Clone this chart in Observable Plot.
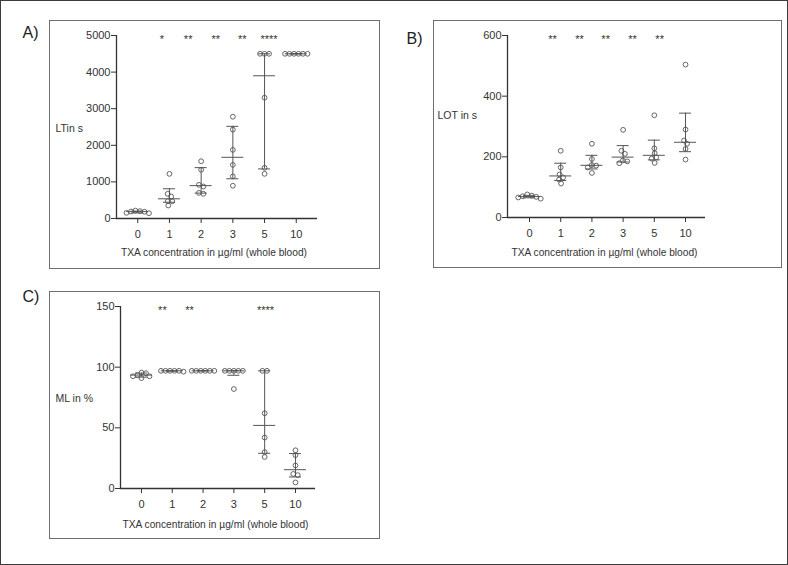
<!DOCTYPE html>
<html><head><meta charset="utf-8">
<script src="https://cdn.jsdelivr.net/npm/d3@7"></script>
<script src="https://cdn.jsdelivr.net/npm/@observablehq/plot@0.6"></script>
<style>
body{margin:0;background:#fff;}
#fig{position:relative;width:788px;height:565px;box-sizing:border-box;border:1.5px solid #3c3c3c;overflow:hidden;font-family:"Liberation Sans",Arial,sans-serif;background:#fff;}
.box{position:absolute;box-sizing:border-box;border:1px solid #6e6e6e;}
.panel{position:absolute;}
.letter{position:absolute;font-size:16px;color:#222;line-height:1;}
</style></head><body><div id="fig"></div>
<script>
// ---- data ----
const groups = ["0", "1", "2", "3", "5", "10"];
const xLabel = "TXA concentration in µg/ml (whole blood)";

// Panel A: LT in s
const ltValues = [
  [145, 215, 200, 185, 155, 190],
  [1220, 675, 600, 475, 470, 355],
  [1565, 1330, 875, 920, 675, 700],
  [2780, 2430, 1875, 1465, 1150, 895],
  [4500, 4500, 4500, 3300, 1385, 1220],
  [4500, 4500, 4500, 4500, 4500, 4500]
];
const ltMedian = [188, 538, 898, 1672, 3900, 4500];
const ltQ1 = [152, 444, 694, 1086, 1355, 4500];
const ltQ3 = [204, 812, 1390, 2518, 4500, 4500];
const ltTicks = [0, 1000, 2000, 3000, 4000, 5000];
const ltStars = ["*", "**", "**", "**", "****"];
const ltStarPos = [0.76, 1.59, 2.46, 3.3, 4.14];

// Panel B: LOT in s
const lotValues = [
  [62, 66, 68, 70, 72, 76],
  [220, 165, 142, 132, 125, 112],
  [243, 193, 173, 171, 165, 147],
  [289, 220, 210, 188, 185, 179],
  [337, 228, 212, 198, 194, 180],
  [504, 290, 254, 243, 226, 191]
];
const lotMedian = [69, 137, 172, 199, 205, 248];
const lotQ1 = [65, 122, 160, 183, 190, 217];
const lotQ3 = [73, 179, 205, 237, 255, 344];
const lotTicks = [0, 200, 400, 600];
const lotStars = ["**", "**", "**", "**", "**"];
const lotStarPos = [0.74, 1.6, 2.44, 3.3, 4.17];

// Panel C: ML in %
const mlValues = [
  [95, 91, 93.5, 92.5, 92.5, 95.5],
  [96.3, 97, 97, 97, 97, 97],
  [97, 97, 97, 97, 97, 97],
  [97, 97, 97, 97, 97, 82],
  [97, 97, 62, 42, 30, 26],
  [31.5, 27.5, 19, 12, 11, 5]
];
const mlMedian = [93.5, 97, 97, 97, 52, 15.5];
const mlQ1 = [91.8, 96.8, 97, 93.3, 29, 9.5];
const mlQ3 = [95.1, 97, 97, 97, 97, 28.8];
const mlTicks = [0, 50, 100, 150];
const mlStars = ["**", "**", "****"];
const mlStarPos = [0.68, 1.56, 4.03];

// ---- helpers ----
function swarm(ys, minDist) {
  const order = d3.range(ys.length).sort((a, b) => ys[a] - ys[b]);
  const placed = [];
  const off = new Array(ys.length).fill(0);
  for (const i of order) {
    let best = 0;
    for (let k = 0; k < 400; k++) {
      const c = k === 0 ? 0 : (k % 2 ? 1 : -1) * Math.ceil(k / 2) * 0.5;
      if (placed.every(p => Math.hypot(p.x - c, p.y - ys[i]) >= minDist)) { best = c; break; }
    }
    off[i] = best;
    placed.push({x: best, y: ys[i]});
  }
  // recentre each chain of vertically overlapping points
  let comp = [];
  const flush = () => {
    if (comp.length > 1) {
      const m = d3.mean(comp, i => off[i]);
      comp.forEach(i => off[i] -= m);
    }
    comp = [];
  };
  order.forEach((i, k) => {
    if (k > 0 && ys[i] - ys[order[k - 1]] >= minDist) flush();
    comp.push(i);
  });
  flush();
  return off;
}

function makePanel(cfg) {
  const {values, median, q1, q3, ticks, stars, starPos, yLabel, W, H, m, xDomain, yLabelDx, yLabelDy, xLabelDy} = cfg;
  const yMax = ticks[ticks.length - 1];
  const ypx = d3.scaleLinear([0, yMax], [H - m.bottom, m.top]);
  const pxPerX = (W - m.left - m.right) / (xDomain[1] - xDomain[0]);
  const pts = [];
  values.forEach((vals, gi) => {
    const offs = swarm(vals.map(v => ypx(v)), 4.4);
    vals.forEach((v, j) => pts.push({x: gi + offs[j] / pxPerX, y: v}));
  });
  const summ = groups.map((g, i) => ({i, med: median[i], lo: q1[i], hi: q3[i]}));
  const medW = 11 / pxPerX, capW = 6 / pxPerX;
  const ink = "#555";
  const svg = Plot.plot({
    width: W, height: H,
    marginLeft: m.left, marginRight: m.right, marginTop: m.top, marginBottom: m.bottom,
    style: {fontFamily: "'Liberation Sans', Arial, sans-serif", fontSize: "11px", color: "#333", background: "transparent", overflow: "visible"},
    x: {type: "linear", domain: xDomain, ticks: d3.range(groups.length), tickFormat: i => groups[i], tickSize: 5, tickPadding: 7, label: null},
    y: {domain: [0, yMax], ticks: ticks, tickFormat: d3.format("d"), tickSize: 5, tickPadding: 1, label: null},
    marks: [
      Plot.ruleX(summ, {x: "i", y1: "lo", y2: "hi", stroke: ink, strokeWidth: 1}),
      Plot.ruleY(summ, {y: "med", x1: d => d.i - medW, x2: d => d.i + medW, stroke: ink, strokeWidth: 1}),
      Plot.ruleY(summ, {y: "lo", x1: d => d.i - capW, x2: d => d.i + capW, stroke: ink, strokeWidth: 1}),
      Plot.ruleY(summ, {y: "hi", x1: d => d.i - capW, x2: d => d.i + capW, stroke: ink, strokeWidth: 1}),
      Plot.dot(pts, {x: "x", y: "y", r: 2.4, stroke: ink, fill: "none", strokeWidth: 0.9}),
      Plot.ruleX([xDomain[0]], {stroke: "#333", strokeWidth: 1.3}),
      Plot.ruleY([0], {stroke: "#333", strokeWidth: 1.3}),
      Plot.text(stars, {x: (d, i) => starPos[i], y: () => yMax, text: d => d, fontSize: 11, fill: "#333", dy: 3.5}),
      Plot.text([yLabel], {frameAnchor: "left", dx: yLabelDx, dy: yLabelDy, textAnchor: "start", fill: "#333", fontSize: 10.5}),
      Plot.text([xLabel], {x: () => 2.5, frameAnchor: "bottom", dy: xLabelDy, dx: -3, fill: "#333", fontSize: 11})
    ]
  });
  svg.querySelectorAll("text").forEach(t => {
    if (t.textContent === xLabel) {
      t.setAttribute("textLength", "186");
      t.setAttribute("lengthAdjust", "spacingAndGlyphs");
    }
  });
  return svg;
}

const fig = document.getElementById("fig");
function place(el, left, top, W, H) {
  const box = document.createElement("div");
  box.className = "box";
  Object.assign(box.style, {left: left + "px", top: top + "px", width: W + "px", height: H + "px"});
  fig.appendChild(box);
  el.classList.add("panel");
  Object.assign(el.style, {left: left + "px", top: top + "px"});
  fig.appendChild(el);
}
function letter(t, left, top) {
  const d = document.createElement("div");
  d.className = "letter";
  d.textContent = t;
  Object.assign(d.style, {left: left + "px", top: top + "px"});
  fig.appendChild(d);
}

const bo = 1.5;

const pA = makePanel({values: ltValues, median: ltMedian, q1: ltQ1, q3: ltQ3, ticks: ltTicks, stars: ltStars, starPos: ltStarPos,
  yLabel: "LTin s", W: 331, H: 249, m: {left: 67, right: 63, top: 15, bottom: 51}, xDomain: [-0.67, 5.67],
  yLabelDx: -61, yLabelDy: 1.5, xLabelDy: 37.5});
place(pA, 49 - bo, 20 - bo, 331, 249);

const pB = makePanel({values: lotValues, median: lotMedian, q1: lotQ1, q3: lotQ3, ticks: lotTicks, stars: lotStars, starPos: lotStarPos,
  yLabel: "LOT in s", W: 349, H: 248, m: {left: 74, right: 77, top: 15, bottom: 51}, xDomain: [-0.705, 5.64],
  yLabelDx: -70, yLabelDy: -11, xLabelDy: 38});
place(pB, 433 - bo, 20 - bo, 349, 248);

const pC = makePanel({values: mlValues, median: mlMedian, q1: mlQ1, q3: mlQ3, ticks: mlTicks, stars: mlStars, starPos: mlStarPos,
  yLabel: "ML in %", W: 331, H: 248, m: {left: 71, right: 65, top: 15, bottom: 51}, xDomain: [-0.68, 5.65],
  yLabelDx: -65, yLabelDy: 1, xLabelDy: 39});
place(pC, 49 - bo, 291 - bo, 331, 248);

letter("A)", 23 - bo, 25 - bo);
letter("B)", 407 - bo, 31 - bo);
letter("C)", 23 - bo, 289 - bo);
</script></body></html>
